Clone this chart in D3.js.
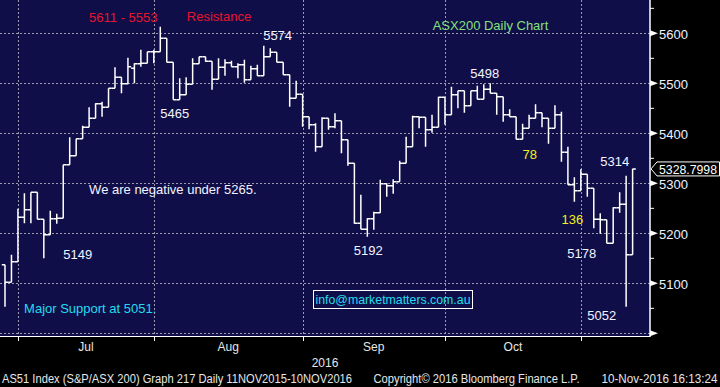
<!DOCTYPE html>
<html>
<head>
<meta charset="utf-8">
<script src="https://cdn.jsdelivr.net/npm/d3@7"></script>
<style>
  html, body { margin: 0; padding: 0; background: #000; }
  svg { display: block; }
  text { font-family: "Liberation Sans", Arial, sans-serif; }
  .grid { stroke: #9c9cae; stroke-width: 1; stroke-dasharray: 2,2; }
  .ann { font-size: 13px; }
  .foot { font-size: 12px; fill: #e6e6e6; }
</style>
</head>
<body>
<svg id="chart" width="720" height="387"></svg>
<script>
// AS51 daily bars, late Jun - 10 Nov 2016
const opens = [5137, 5102, 5143, 5232, 5247, 5282, 5228, 5197, 5229, 5230,
  5337, 5355, 5389, 5412, 5430, 5459, 5452, 5490, 5512, 5499,
  5530, 5539, 5540, 5563, 5563, 5590, 5542, 5467, 5477, 5498,
  5539, 5553, 5544, 5508, 5532, 5541, 5533, 5537, 5507, 5529,
  5515, 5553, 5562, 5542, 5517, 5470, 5478, 5433, 5417, 5373,
  5430, 5413, 5425, 5387, 5340, 5220, 5208, 5229, 5241, 5299,
  5295, 5303, 5340, 5373, 5433, 5432, 5407, 5412, 5472, 5437,
  5477, 5485, 5455, 5485, 5468, 5488, 5480, 5473, 5437, 5433,
  5388, 5410, 5430, 5441, 5430, 5410, 5437, 5362, 5297, 5285,
  5318, 5290, 5228, 5227, 5180, 5251, 5258, 5157];
const highs = [5137, 5157, 5249, 5280, 5282, 5282, 5228, 5245, 5239, 5337,
  5392, 5389, 5415, 5452, 5460, 5463, 5490, 5532, 5512, 5551,
  5540, 5567, 5563, 5567, 5613, 5590, 5542, 5510, 5512, 5550,
  5553, 5553, 5544, 5550, 5548, 5545, 5540, 5547, 5535, 5537,
  5575, 5570, 5562, 5542, 5517, 5505, 5478, 5433, 5420, 5432,
  5430, 5440, 5425, 5387, 5340, 5277, 5230, 5243, 5307, 5300,
  5308, 5345, 5393, 5435, 5433, 5432, 5437, 5473, 5472, 5493,
  5485, 5485, 5485, 5495, 5498, 5500, 5480, 5473, 5448, 5433,
  5419, 5437, 5458, 5441, 5430, 5456, 5443, 5373, 5312, 5328,
  5318, 5290, 5240, 5227, 5252, 5282, 5315, 5329];
const lows = [5053, 5102, 5143, 5220, 5220, 5228, 5150, 5197, 5219, 5230,
  5337, 5355, 5389, 5412, 5430, 5433, 5452, 5490, 5480, 5498,
  5500, 5533, 5540, 5540, 5563, 5542, 5467, 5467, 5477, 5498,
  5539, 5543, 5487, 5508, 5515, 5533, 5510, 5501, 5507, 5515,
  5515, 5553, 5542, 5517, 5453, 5470, 5413, 5408, 5363, 5373,
  5407, 5410, 5360, 5335, 5219, 5208, 5193, 5207, 5241, 5273,
  5279, 5303, 5340, 5373, 5410, 5373, 5401, 5412, 5417, 5437,
  5450, 5441, 5455, 5468, 5468, 5480, 5437, 5423, 5433, 5388,
  5388, 5410, 5430, 5412, 5379, 5410, 5343, 5297, 5263, 5285,
  5273, 5210, 5199, 5180, 5180, 5241, 5053, 5157];
const closes = [5102, 5143, 5232, 5247, 5282, 5228, 5197, 5229, 5230, 5337,
  5355, 5389, 5412, 5430, 5459, 5452, 5490, 5512, 5499, 5533,
  5539, 5540, 5563, 5563, 5590, 5542, 5467, 5477, 5498, 5539,
  5553, 5544, 5508, 5532, 5541, 5533, 5537, 5507, 5529, 5515,
  5553, 5562, 5542, 5517, 5470, 5478, 5433, 5417, 5373, 5430,
  5413, 5425, 5387, 5340, 5220, 5208, 5229, 5241, 5299, 5295,
  5303, 5340, 5373, 5433, 5432, 5407, 5412, 5472, 5437, 5477,
  5485, 5455, 5485, 5468, 5488, 5480, 5473, 5437, 5433, 5388,
  5410, 5430, 5441, 5430, 5410, 5437, 5362, 5297, 5285, 5318,
  5290, 5228, 5227, 5180, 5251, 5258, 5157, 5328.7998];

const months = ["Jul", "Aug", "Sep", "Oct"];
const monthStarts = [2, 23, 46, 68, 89];   // bar index of first trading day
const yTicks = [5000, 5100, 5200, 5300, 5400, 5500, 5600];
const yMinor = [5050, 5150, 5250, 5350, 5450, 5550, 5650];
const lastPrice = "5328.7998";

// annotations: text, bar index where it starts, index level of its baseline, colour
const notes = [
  {t: "5611 - 5553", i: 13, v: 5623, c: "#e8142c"},
  {t: "Resistance", i: 28.1, v: 5625, c: "#e8142c"},
  {t: "ASX200 Daily Chart", i: 66.1, v: 5607, c: "#84e07c"},
  {t: "5574", i: 39.9, v: 5587, c: "#f2f4ff"},
  {t: "5465", i: 24, v: 5430, c: "#f2f4ff"},
  {t: "5498", i: 71.9, v: 5510, c: "#f2f4ff"},
  {t: "78", i: 80, v: 5348, c: "#f0f020"},
  {t: "5314", i: 92, v: 5334, c: "#f2f4ff"},
  {t: "We are negative under 5265.", i: 13, v: 5279, c: "#f2f4ff"},
  {t: "5149", i: 9, v: 5149, c: "#f2f4ff"},
  {t: "5192", i: 53.9, v: 5156, c: "#f2f4ff"},
  {t: "136", i: 86, v: 5219, c: "#f0f020"},
  {t: "5178", i: 86.9, v: 5151, c: "#f2f4ff"},
  {t: "Major Support at 5051.", i: 2.95, v: 5040, c: "#22dcee"},
  {t: "5052", i: 90, v: 5027, c: "#f2f4ff"}
];

const svg = d3.select("#chart");
const plotW = 650, plotH = 336;

const x = d3.scaleLinear().domain([0, closes.length - 1]).range([5, 632.6]);
const y = d3.scaleLinear().domain([5000, 5600]).range([333.33, 33.33]);
const half = (x(1) - x(0)) / 2;

svg.append("rect").attr("width", 720).attr("height", 387).attr("fill", "#000");
svg.append("rect").attr("width", plotW).attr("height", plotH).attr("fill", "#100e48");

// grid
svg.append("g").selectAll("line")
  .data(yTicks)
  .enter()
  .append("line")
  .attr("class", "grid")
  .attr("x1", 0).attr("x2", plotW)
  .attr("y1", d => Math.round(y(d)) + 0.5)
  .attr("y2", d => Math.round(y(d)) + 0.5);

svg.append("g").selectAll("line")
  .data(monthStarts)
  .enter()
  .append("line")
  .attr("class", "grid")
  .attr("y1", 0).attr("y2", plotH)
  .attr("x1", d => Math.round(x(d)) + 0.5)
  .attr("x2", d => Math.round(x(d)) + 0.5);

// OHLC bars
svg.append("g").selectAll("path")
  .data(closes)
  .enter()
  .append("path")
  .attr("fill", "none")
  .attr("stroke", "#fff")
  .attr("stroke-width", 1.5)
  .attr("d", (d, i) => {
    const cx = x(i);
    return `M${cx - half},${y(opens[i])}H${cx}` +
      `M${cx},${y(highs[i])}V${y(lows[i])}` +
      `M${cx},${y(d)}H${cx + half}`;
  });

// right axis
svg.append("line")
  .attr("x1", plotW).attr("x2", plotW)
  .attr("y1", 0).attr("y2", plotH + 1)
  .attr("stroke", "#fff").attr("stroke-width", 1.5);

svg.append("g").selectAll("line")
  .data(yMinor)
  .enter()
  .append("line")
  .attr("x1", plotW).attr("x2", plotW + 4)
  .attr("y1", d => y(d)).attr("y2", d => y(d))
  .attr("stroke", "#fff");

svg.append("g").selectAll("path")
  .data(yTicks)
  .enter()
  .append("path")
  .attr("fill", "#fff")
  .attr("d", d => `M${plotW},${y(d) - 3}L${plotW + 8},${y(d)}L${plotW},${y(d) + 3}Z`);

svg.append("g").selectAll("text")
  .data(yTicks.filter(d => d > 5000))
  .enter()
  .append("text")
  .attr("x", 659)
  .attr("y", d => y(d) + 5.5)
  .attr("font-size", 13)
  .attr("fill", "#eef2ff")
  .text(d => d);

// last price box
const yl = y(closes[closes.length - 1]);
svg.append("path")
  .attr("d", `M651,${yl}L657,${yl - 7}H719.5V${yl + 7}H657Z`)
  .attr("fill", "#000")
  .attr("stroke", "#fff");
svg.append("text")
  .attr("x", 659)
  .attr("y", yl + 5)
  .attr("font-size", 13)
  .attr("fill", "#fff")
  .attr("textLength", 58)
  .attr("lengthAdjust", "spacingAndGlyphs")
  .text(lastPrice);

// bottom axis
svg.append("line")
  .attr("x1", 0).attr("x2", plotW)
  .attr("y1", plotH + 0.5).attr("y2", plotH + 0.5)
  .attr("stroke", "#fff");

svg.append("g").selectAll("line")
  .data(monthStarts)
  .enter()
  .append("line")
  .attr("x1", d => Math.round(x(d)) + 0.5)
  .attr("x2", d => Math.round(x(d)) + 0.5)
  .attr("y1", plotH).attr("y2", plotH + 5)
  .attr("stroke", "#fff");

svg.append("g").selectAll("text")
  .data(months)
  .enter()
  .append("text")
  .attr("class", "foot")
  .attr("font-size", 13)
  .attr("text-anchor", "middle")
  .attr("x", (d, i) => (x(monthStarts[i]) + x(monthStarts[i + 1])) / 2)
  .attr("y", 350.5)
  .text(d => d);

svg.append("text")
  .attr("class", "foot")
  .attr("font-size", 13)
  .attr("text-anchor", "middle")
  .attr("x", plotW / 2)
  .attr("y", 367)
  .text("2016");

// annotations
svg.append("g").selectAll("text")
  .data(notes)
  .enter()
  .append("text")
  .attr("class", "ann")
  .attr("x", d => x(d.i))
  .attr("y", d => y(d.v))
  .style("fill", d => d.c)
  .text(d => d.t);

// e-mail box
const mail = svg.append("g");
mail.append("rect")
  .attr("x", 313.5).attr("y", 290.5)
  .attr("width", 159).attr("height", 18)
  .attr("fill", "none")
  .attr("stroke", "#fff");
mail.append("text")
  .attr("class", "ann")
  .attr("x", 315.5).attr("y", 303.5)
  .style("fill", "#22dcee")
  .attr("textLength", 155)
  .attr("lengthAdjust", "spacingAndGlyphs")
  .text("info@marketmatters.com.au");

// footer
svg.append("text").attr("class", "foot")
  .attr("x", 2).attr("y", 382.5)
  .attr("textLength", 350).attr("lengthAdjust", "spacingAndGlyphs")
  .text("AS51 Index (S&P/ASX 200) Graph 217  Daily 11NOV2015-10NOV2016");
svg.append("text").attr("class", "foot")
  .attr("x", 373.5).attr("y", 382.5)
  .attr("textLength", 206).attr("lengthAdjust", "spacingAndGlyphs")
  .text("Copyright\u00a9 2016 Bloomberg Finance L.P.");
svg.append("text").attr("class", "foot")
  .attr("x", 601.5).attr("y", 382.5)
  .attr("textLength", 116).attr("lengthAdjust", "spacingAndGlyphs")
  .text("10-Nov-2016 16:13:24");
</script>
</body>
</html>
